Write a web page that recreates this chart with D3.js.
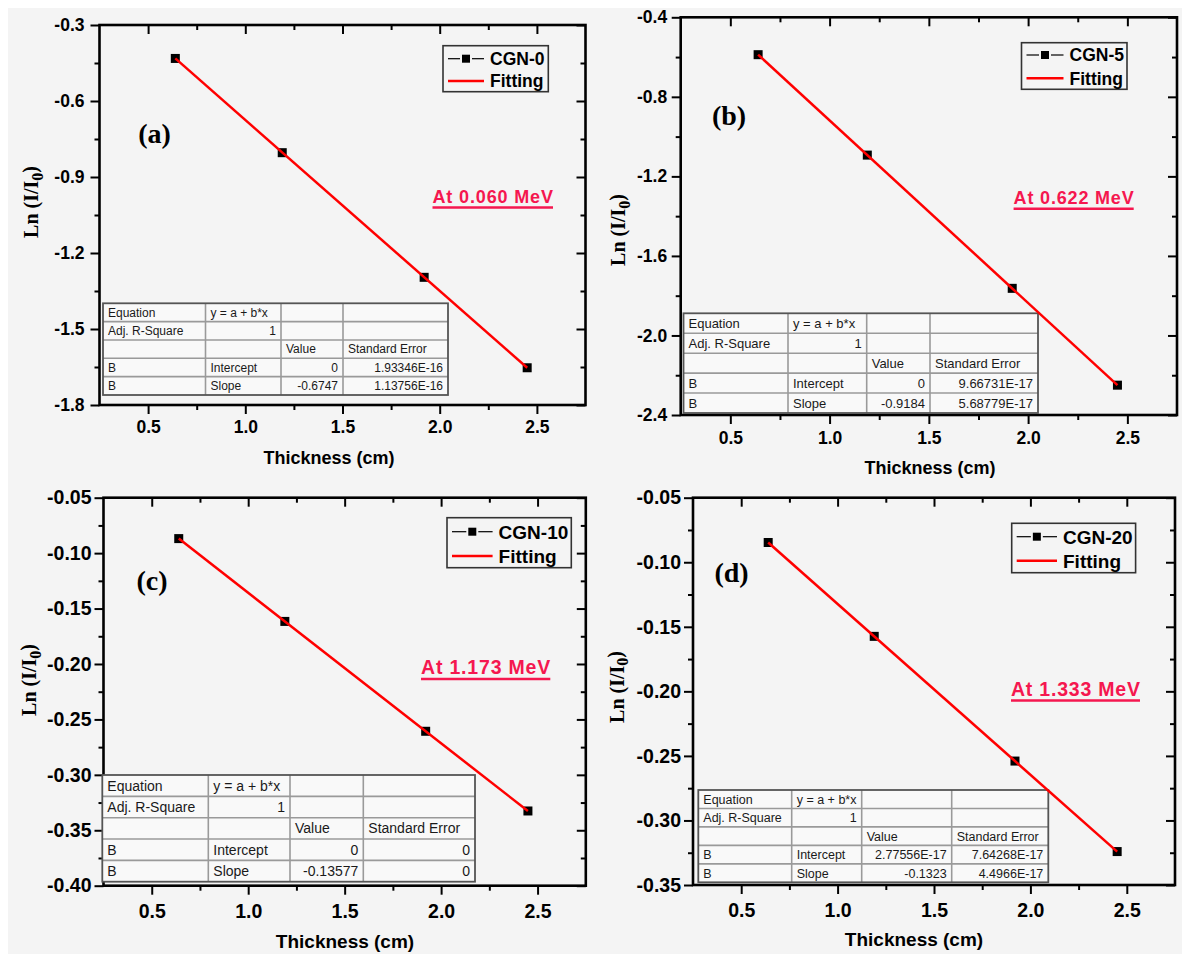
<!DOCTYPE html>
<html>
<head>
<meta charset="utf-8">
<script src="https://cdn.jsdelivr.net/npm/d3@7"></script>
<style>
  body { margin: 0; background: #ffffff; }
  svg { display: block; }
</style>
</head>
<body>
<svg id="fig" width="1182" height="954"></svg>
<script>
// ---- Data -------------------------------------------------------------
const thickness = [0.64, 1.19, 1.92, 2.45];              // cm
const seriesNames = ["CGN-0", "CGN-5", "CGN-10", "CGN-20"];
const panelTags = ["(a)", "(b)", "(c)", "(d)"];
const energyLabels = ["At 0.060 MeV", "At 0.622 MeV", "At 1.173 MeV", "At 1.333 MeV"];

// ln(I/I0) measured at each thickness
const lnCGN0  = [-0.432, -0.804, -1.296, -1.653];
const lnCGN5  = [-0.588, -1.093, -1.763, -2.250];
const lnCGN10 = [-0.0869, -0.1616, -0.2607, -0.3326];
const lnCGN20 = [-0.0847, -0.1574, -0.2540, -0.3241];
const lnSeries = [lnCGN0, lnCGN5, lnCGN10, lnCGN20];

// linear fit results  y = a + b*x
const interceptValues = ["0", "0", "0", "2.77556E-17"];
const interceptErrors = ["1.93346E-16", "9.66731E-17", "0", "7.64268E-17"];
const slopeValues     = ["-0.6747", "-0.9184", "-0.13577", "-0.1323"];
const slopeErrors     = ["1.13756E-16", "5.68779E-17", "0", "4.4966E-17"];
const adjRSquare      = ["1", "1", "1", "1"];

// axis tick labels
const xTicks = [0.5, 1.0, 1.5, 2.0, 2.5];
const yTicksA = [-1.8, -1.5, -1.2, -0.9, -0.6, -0.3];
const yTicksB = [-2.4, -2.0, -1.6, -1.2, -0.8, -0.4];
const yTicksC = [-0.40, -0.35, -0.30, -0.25, -0.20, -0.15, -0.10, -0.05];
const yTicksD = [-0.35, -0.30, -0.25, -0.20, -0.15, -0.10, -0.05];
const yTickSets = [yTicksA, yTicksB, yTicksC, yTicksD];
const yDecimals = [1, 1, 2, 2];

// ---- Layout -----------------------------------------------------------
const layout = [
  { x0: 99.5, x1: 585.5, y0: 25, y1: 405, tickFont: 17.5, xPad: 7, yPad: 6,
    xTitle: [329, 464, 18], yTitle: [31, 202, 20],
    tag: [154.6, 133, 28],
    legend: { x0: 443, x1: 548.3, y0: 45.7, y1: 91.7, r1: 58.7, r2: 81, tx: 490, font: 17.5 },
    energy: { x0: 432.5, x1: 553, base: 203, under: 207.5, font: 18 },
    table: { cols: [103, 205.5, 281, 343, 448], y0: 303.3, y1: 395, font: 12 } },
  { x0: 680.7, x1: 1177, y0: 17.3, y1: 415, tickFont: 17.5, xPad: 7.5, yPad: 4.5,
    xTitle: [930, 474, 18], yTitle: [618, 230, 20],
    tag: [729, 115, 28],
    legend: { x0: 1021.5, x1: 1127, y0: 42.7, y1: 89.3, r1: 55, r2: 78.3, tx: 1069.5, font: 17.5 },
    energy: { x0: 1013.6, x1: 1133.7, base: 204, under: 208.7, font: 18 },
    table: { cols: [683.5, 788, 866.7, 930, 1038], y0: 313.3, y1: 413, font: 13 } },
  { x0: 103.5, x1: 585.8, y0: 497.7, y1: 885.7, tickFont: 19.5, xPad: 9.5, yPad: 3,
    xTitle: [345, 948, 19], yTitle: [29, 680, 20],
    tag: [152, 580, 28],
    legend: { x0: 447, x1: 571.3, y0: 517.7, y1: 567.7, r1: 531.7, r2: 556, tx: 498.6, font: 19 },
    energy: { x0: 421, x1: 550.3, base: 674, under: 679, font: 19.5 },
    table: { cols: [102.3, 208.3, 290, 363.3, 475], y0: 775, y1: 881.7, font: 14 } },
  { x0: 693, x1: 1175, y0: 497.7, y1: 885, tickFont: 19.5, xPad: 9, yPad: 3,
    xTitle: [914, 946, 19], yTitle: [616.5, 687, 20],
    tag: [731.6, 571.7, 28],
    legend: { x0: 1011.7, x1: 1135.6, y0: 523.3, y1: 572.7, r1: 536.7, r2: 560.7, tx: 1063, font: 19 },
    energy: { x0: 1011, x1: 1140, base: 696, under: 700.5, font: 19.5 },
    table: { cols: [698.3, 791.7, 861.7, 951.7, 1048.3], y0: 790, y1: 882.3, font: 12.5 } }
];

const SANS = "'Liberation Sans', Arial, sans-serif";
const SERIF = "'Liberation Serif', 'Times New Roman', serif";
const BG = "#f4f4f4";
const ACCENT = "#f5174f";

const svg = d3.select("#fig");
svg.append("rect").attr("x", 8).attr("y", 8).attr("width", 1174).attr("height", 946).attr("fill", BG);

function styleAxis(sel, font, size) {
  sel.select(".domain").remove();
  sel.selectAll(".tick line").attr("stroke", "#000").attr("stroke-width", 2);
  sel.selectAll(".tick text")
    .attr("fill", "#000")
    .style("font-family", font)
    .style("font-weight", "bold")
    .style("font-size", size + "px");
}

function midpoints(arr) {
  const out = [];
  for (let k = 0; k < arr.length - 1; k++) out.push((arr[k] + arr[k + 1]) / 2);
  return out;
}

function drawPanel(i) {
  const L = layout[i];
  const yTicks = yTickSets[i];
  const g = svg.append("g");

  const x = d3.scaleLinear().domain([0.25, 2.75]).range([L.x0, L.x1]);
  const y = d3.scaleLinear().domain([d3.min(yTicks), d3.max(yTicks)]).range([L.y1, L.y0]);

  const xMinor = midpoints(xTicks);
  const yMinor = midpoints(yTicks);
  const major = 9, minor = 5;

  // bottom axis with labels
  g.append("g").attr("transform", `translate(0,${L.y1})`)
    .call(d3.axisBottom(x).tickValues(xTicks).tickFormat(d => d.toFixed(1))
      .tickSizeInner(major).tickSizeOuter(0).tickPadding(L.xPad))
    .call(s => styleAxis(s, SANS, L.tickFont));
  g.append("g").attr("transform", `translate(0,${L.y1})`)
    .call(d3.axisBottom(x).tickValues(xMinor).tickFormat("").tickSizeInner(minor).tickSizeOuter(0))
    .call(s => styleAxis(s, SANS, L.tickFont));
  // top mirror axis, ticks inward
  g.append("g").attr("transform", `translate(0,${L.y0})`)
    .call(d3.axisTop(x).tickValues(xTicks).tickFormat("").tickSizeInner(-major).tickSizeOuter(0))
    .call(s => styleAxis(s, SANS, L.tickFont));
  g.append("g").attr("transform", `translate(0,${L.y0})`)
    .call(d3.axisTop(x).tickValues(xMinor).tickFormat("").tickSizeInner(-minor).tickSizeOuter(0))
    .call(s => styleAxis(s, SANS, L.tickFont));

  // left axis with labels
  g.append("g").attr("transform", `translate(${L.x0},0)`)
    .call(d3.axisLeft(y).tickValues(yTicks).tickFormat(d => d.toFixed(yDecimals[i]))
      .tickSizeInner(major).tickSizeOuter(0).tickPadding(L.yPad))
    .call(s => styleAxis(s, SANS, L.tickFont));
  g.append("g").attr("transform", `translate(${L.x0},0)`)
    .call(d3.axisLeft(y).tickValues(yMinor).tickFormat("").tickSizeInner(minor).tickSizeOuter(0))
    .call(s => styleAxis(s, SANS, L.tickFont));
  // right mirror axis, ticks inward
  g.append("g").attr("transform", `translate(${L.x1},0)`)
    .call(d3.axisRight(y).tickValues(yTicks).tickFormat("").tickSizeInner(-major).tickSizeOuter(0))
    .call(s => styleAxis(s, SANS, L.tickFont));
  g.append("g").attr("transform", `translate(${L.x1},0)`)
    .call(d3.axisRight(y).tickValues(yMinor).tickFormat("").tickSizeInner(-minor).tickSizeOuter(0))
    .call(s => styleAxis(s, SANS, L.tickFont));

  // frame
  g.append("rect")
    .attr("x", L.x0).attr("y", L.y0)
    .attr("width", L.x1 - L.x0).attr("height", L.y1 - L.y0)
    .attr("fill", "none").attr("stroke", "#000").attr("stroke-width", 2.6);

  // axis titles
  g.append("text")
    .attr("x", L.xTitle[0]).attr("y", L.xTitle[1])
    .attr("text-anchor", "middle")
    .style("font-family", SANS).style("font-weight", "bold").style("font-size", L.xTitle[2] + "px")
    .text("Thickness (cm)");

  const yt = g.append("text")
    .attr("transform", `translate(${L.yTitle[0]},${L.yTitle[1]}) rotate(-90)`)
    .attr("text-anchor", "middle").attr("dy", "0.35em")
    .style("font-family", SERIF).style("font-weight", "bold").style("font-size", L.yTitle[2] + "px");
  yt.append("tspan").text("Ln (I/I");
  yt.append("tspan").attr("dy", "0.3em").style("font-size", "0.8em").text("0");
  yt.append("tspan").attr("dy", "-0.3em").text(")");

  // panel tag
  g.append("text")
    .attr("x", L.tag[0]).attr("y", L.tag[1]).attr("dy", "0.35em")
    .attr("text-anchor", "middle")
    .style("font-family", SERIF).style("font-weight", "bold").style("font-size", L.tag[2] + "px")
    .text(panelTags[i]);

  // energy annotation
  const E = L.energy;
  g.append("text")
    .attr("x", E.x0).attr("y", E.base)
    .attr("textLength", E.x1 - E.x0).attr("lengthAdjust", "spacing")
    .attr("fill", ACCENT)
    .style("font-family", SANS).style("font-weight", "bold").style("font-size", E.font + "px")
    .text(energyLabels[i]);
  g.append("line")
    .attr("x1", E.x0).attr("x2", E.x1).attr("y1", E.under).attr("y2", E.under)
    .attr("stroke", ACCENT).attr("stroke-width", 2.5);

  // fit table
  const T = L.table;
  const rows = [
    ["Equation", "y = a + b*x", "", ""],
    ["Adj. R-Square", adjRSquare[i], "", ""],
    ["", "", "Value", "Standard Error"],
    ["B", "Intercept", interceptValues[i], interceptErrors[i]],
    ["B", "Slope", slopeValues[i], slopeErrors[i]]
  ];
  const rowH = (T.y1 - T.y0) / rows.length;
  const tg = g.append("g");
  tg.append("rect")
    .attr("x", T.cols[0]).attr("y", T.y0)
    .attr("width", T.cols[4] - T.cols[0]).attr("height", T.y1 - T.y0)
    .attr("fill", "#f9f9f9");
  for (let r = 1; r < rows.length; r++) {
    tg.append("line")
      .attr("x1", T.cols[0]).attr("x2", T.cols[4])
      .attr("y1", T.y0 + r * rowH).attr("y2", T.y0 + r * rowH)
      .attr("stroke", "#9a9a9a").attr("stroke-width", 1.6);
  }
  for (let c = 1; c < 4; c++) {
    tg.append("line")
      .attr("x1", T.cols[c]).attr("x2", T.cols[c])
      .attr("y1", T.y0).attr("y2", T.y1)
      .attr("stroke", "#9a9a9a").attr("stroke-width", 1.6);
  }
  tg.append("rect")
    .attr("x", T.cols[0]).attr("y", T.y0)
    .attr("width", T.cols[4] - T.cols[0]).attr("height", T.y1 - T.y0)
    .attr("fill", "none").attr("stroke", "#555").attr("stroke-width", 1.8);
  const isNum = s => s !== "" && !isNaN(+s);
  rows.forEach((row, r) => {
    row.forEach((cell, c) => {
      if (cell === "") return;
      const right = isNum(cell);
      tg.append("text")
        .attr("x", right ? T.cols[c + 1] - 5 : T.cols[c] + 5)
        .attr("y", T.y0 + (r + 0.5) * rowH).attr("dy", "0.36em")
        .attr("text-anchor", right ? "end" : "start")
        .attr("fill", "#1a1a1a")
        .style("font-family", SANS).style("font-size", T.font + "px")
        .text(cell);
    });
  });

  // measured points, joined by a thin black line
  const vals = lnSeries[i];
  const pts = thickness.map((t, k) => [t, vals[k]]);
  g.append("path")
    .datum(pts)
    .attr("fill", "none").attr("stroke", "#000").attr("stroke-width", 1)
    .attr("d", d3.line().x(d => x(d[0])).y(d => y(d[1])));
  const sq = 9;
  g.selectAll("rect.pt").data(pts).join("rect")
    .attr("class", "pt")
    .attr("x", d => x(d[0]) - sq / 2).attr("y", d => y(d[1]) - sq / 2)
    .attr("width", sq).attr("height", sq)
    .attr("fill", "#000");

  // linear fit from the tabulated intercept and slope
  const a = +interceptValues[i], b = +slopeValues[i];
  const fitX = [thickness[0], thickness[thickness.length - 1]];
  g.append("path")
    .datum(fitX.map(t => [t, a + b * t]))
    .attr("fill", "none").attr("stroke", "#ff0000").attr("stroke-width", 2.5)
    .attr("d", d3.line().x(d => x(d[0])).y(d => y(d[1])));

  // legend
  const G = L.legend;
  const lg = g.append("g");
  lg.append("rect")
    .attr("x", G.x0).attr("y", G.y0).attr("width", G.x1 - G.x0).attr("height", G.y1 - G.y0)
    .attr("fill", BG).attr("stroke", "#333").attr("stroke-width", 1.6);
  const lx0 = G.x0 + 5, lx1 = G.tx - 6, lmid = (lx0 + lx1) / 2;
  lg.append("line").attr("x1", lx0).attr("x2", lmid - 6).attr("y1", G.r1).attr("y2", G.r1)
    .attr("stroke", "#000").attr("stroke-width", 1.2);
  lg.append("line").attr("x1", lmid + 6).attr("x2", lx1).attr("y1", G.r1).attr("y2", G.r1)
    .attr("stroke", "#000").attr("stroke-width", 1.2);
  lg.append("rect").attr("x", lmid - 4).attr("y", G.r1 - 4).attr("width", 8).attr("height", 8).attr("fill", "#000");
  lg.append("line").attr("x1", lx0).attr("x2", lx1).attr("y1", G.r2).attr("y2", G.r2)
    .attr("stroke", "#ff0000").attr("stroke-width", 2.5);
  [[seriesNames[i], G.r1], ["Fitting", G.r2]].forEach(([t, yy]) => {
    lg.append("text")
      .attr("x", G.tx).attr("y", yy).attr("dy", "0.36em")
      .style("font-family", SANS).style("font-weight", "bold").style("font-size", G.font + "px")
      .text(t);
  });
}

for (let i = 0; i < 4; i++) drawPanel(i);
</script>
</body>
</html>
